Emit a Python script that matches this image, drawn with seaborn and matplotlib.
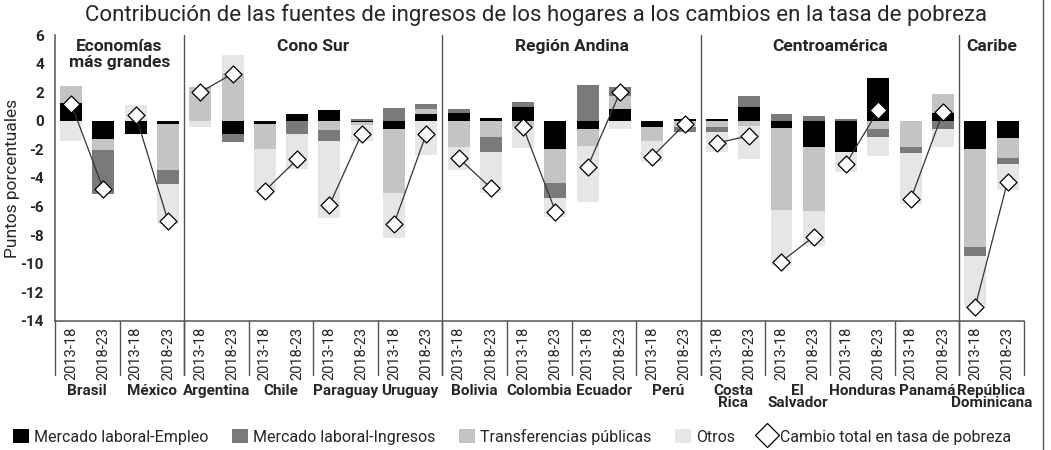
import numpy as np
import pandas as pd
import matplotlib
matplotlib.use("Agg")
import matplotlib.pyplot as plt
from matplotlib.patches import Patch
from matplotlib.lines import Line2D
import matplotlib.transforms as mtransforms
import seaborn as sns

# --- data (percentage points), two periods per country ---
periods = ["2013-18", "2018-23"]
countries = ["Brasil", "México", "Argentina", "Chile", "Paraguay", "Uruguay",
             "Bolivia", "Colombia", "Ecuador", "Perú", "Costa\nRica",
             "El\nSalvador", "Honduras", "Panamá", "República\nDominicana"]
regions = ["Economías\nmás grandes", "Cono Sur", "Región Andina",
           "Centroamérica", "Caribe"]
region_sizes = [2, 4, 4, 4, 1]

empleo = [1.25, -1.25, -0.95, -0.2, 0.0, -0.95, -0.2, 0.45, 0.75, -0.1,
          -0.55, 0.5, 0.55, 0.2, 0.95, -2.0, -0.6, 0.85, -0.4, 0.15,
          0.1, 0.95, -0.5, -1.8, -2.2, 3.0, 0.0, 0.55, -2.0, -1.2]
ingresos = [0.0, -3.05, 0.0, -1.0, 0.0, -0.5, 0.0, -0.95, -0.75, 0.15,
            0.9, 0.3, 0.3, -1.05, 0.35, -1.05, 2.5, 0.6, 0.0, -0.35,
            -0.4, 0.8, 0.45, 0.35, 0.1, -0.55, -0.42, -0.6, -0.63, -0.42]
transferencias = [1.2, -0.8, 0.0, -3.25, 2.35, 3.35, -1.8, 0.0, -0.65, -0.2,
                  -4.5, 0.35, -1.85, -1.1, -0.4, -2.35, -1.15, 0.9, -1.0, -0.45,
                  -0.4, -0.35, -5.75, -4.5, 0.0, -0.6, -1.8, 1.3, -6.85, -1.4]
otros = [-1.4, 0.0, 1.1, -2.75, -0.4, 1.25, -2.95, -2.4, -5.4, -1.1,
         -3.15, -2.4, -1.6, -2.9, -1.5, -1.35, -3.9, -0.55, -1.5, 0.0,
         -1.35, -2.35, -3.9, -2.45, -1.4, -1.3, -3.6, -1.2, -3.6, -1.8]
total = [1.2, -4.8, 0.4, -7.0, 2.0, 3.3, -4.9, -2.7, -5.9, -0.9,
         -7.2, -0.9, -2.6, -4.7, -0.45, -6.35, -3.2, 2.0, -2.5, -0.25,
         -1.55, -1.05, -9.85, -8.1, -3.0, 0.75, -5.5, 0.6, -13.0, -4.25]

labels = ["Mercado laboral-Empleo", "Mercado laboral-Ingresos",
          "Transferencias públicas", "Otros"]
colors = {"Mercado laboral-Empleo": "#000000",
          "Mercado laboral-Ingresos": "#7a7a7a",
          "Transferencias públicas": "#c4c4c4",
          "Otros": "#e6e6e6"}
# stacking order seen in the bars (from zero outwards)
stack_order = ["Mercado laboral-Empleo", "Transferencias públicas",
               "Mercado laboral-Ingresos", "Otros"]
series = {"Mercado laboral-Empleo": empleo,
          "Mercado laboral-Ingresos": ingresos,
          "Transferencias públicas": transferencias,
          "Otros": otros}

n = len(total)
xs = np.arange(n)

sns.set_style("white")
plt.rcParams["font.family"] = ["Roboto", "DejaVu Sans"]

fig = plt.figure(figsize=(10.51, 4.5), dpi=100)
ax = fig.add_axes([0.0523, 0.287, 0.9217, 0.635])

pos_base = np.zeros(n)
neg_base = np.zeros(n)
for name in stack_order:
    vals = np.array(series[name])
    bottom = np.where(vals >= 0, pos_base, neg_base)
    sns.barplot(x=xs, y=vals, bottom=bottom, color=colors[name],
                width=0.68, linewidth=0, saturation=1, errorbar=None,
                ax=ax, zorder=2)
    pos_base += np.clip(vals, 0, None)
    neg_base += np.clip(vals, None, 0)

df = pd.DataFrame({"x": xs, "total": total,
                   "country": np.repeat(np.arange(len(countries)), 2)})
sns.lineplot(data=df, x="x", y="total", units="country", estimator=None,
             color="#333333", lw=0.9, ax=ax, zorder=3, legend=False)
sns.scatterplot(data=df, x="x", y="total", marker="D", s=75,
                facecolor="white", edgecolor="black", linewidth=0.9,
                ax=ax, zorder=4, legend=False)

ax.set_xlim(-0.5, n - 0.5)
ax.set_ylim(-14, 6)
ax.set_yticks(range(-14, 7, 2))
ax.set_yticklabels([str(v) for v in range(-14, 7, 2)], fontsize=11,
                   fontweight="bold")
ax.tick_params(axis="y", length=0, pad=8)
ax.set_xticks(xs)
ax.set_xticklabels(periods * len(countries), rotation=90, fontsize=10.5)
ax.tick_params(axis="x", length=0, pad=4)
ax.set_xlabel("")
ax.set_ylabel("Puntos porcentuales", fontsize=12.5)
ax.yaxis.set_label_coords(-0.036, 0.5)
for side in ["top", "right"]:
    ax.spines[side].set_visible(False)
for side in ["left", "bottom"]:
    ax.spines[side].set_color("#555555")
    ax.spines[side].set_linewidth(1.1)

trans = mtransforms.blended_transform_factory(ax.transData, ax.transAxes)
# separators between countries (below the axis) and regions (full height)
for b in np.arange(-0.5, n, 2):
    ax.plot([b, b], [0, -0.19], transform=trans, color="#555555", lw=1.0,
            clip_on=False)
start = 0
for reg, size in zip(regions, region_sizes):
    mid = start * 2 + size - 0.5
    ax.text(mid, 0.985, reg, transform=trans, ha="center", va="top",
            fontsize=12.5, fontweight="bold", linespacing=1.05)
    start += size
    if start < len(countries):
        b = start * 2 - 0.5
        ax.plot([b, b], [1.0, -0.19], transform=trans, color="#555555",
                lw=1.0, clip_on=False)

for i, c in enumerate(countries):
    ax.text(2 * i + 0.5, -0.22, c, transform=trans, ha="center", va="top",
            fontsize=11, fontweight="bold", linespacing=0.85)

fig.suptitle("Contribución de las fuentes de ingresos de los hogares a los "
             "cambios en la tasa de pobreza", x=0.51, y=0.992, fontsize=16)

handles = [Patch(facecolor=colors[l], edgecolor="none") for l in labels]
handles.append(Line2D([], [], marker="D", ls="none", markersize=12,
                      markerfacecolor="white", markeredgecolor="black",
                      markeredgewidth=0.9))
fig.legend(handles, labels + ["Cambio total en tasa de pobreza"],
           loc="center", bbox_to_anchor=(0.487, 0.03), ncol=5, frameon=False,
           fontsize=11.5, handlelength=1.0, handleheight=1.0,
           handletextpad=0.3, columnspacing=1.5)

fig.add_artist(Line2D([1043 / 1051, 1043 / 1051], [0, 1],
                      transform=fig.transFigure, color="#555555", lw=1.0))

fig.savefig("out.png", dpi=100)
